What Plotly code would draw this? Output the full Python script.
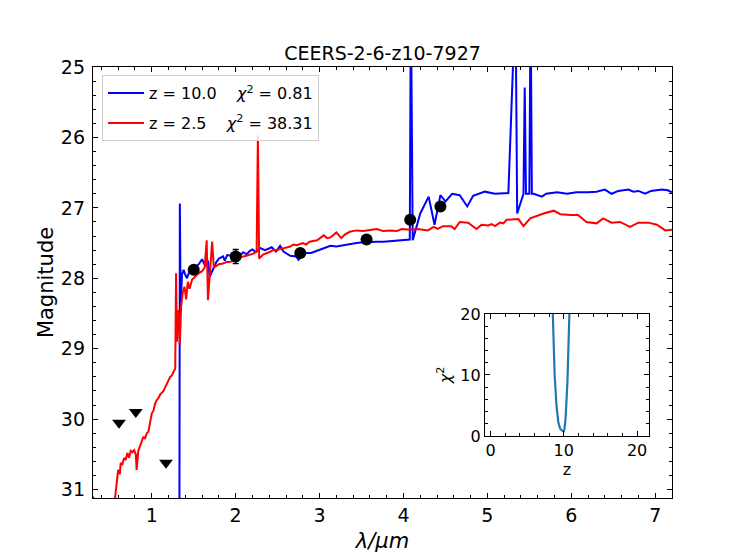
import plotly.graph_objects as go

# ---------------- data ----------------
# z = 10.0 template (blue)
blue_wl = [0.30, 0.80, 1.20, 1.32, 1.335, 1.345, 1.36, 1.38, 1.40, 1.42, 1.45, 1.48, 1.52, 1.56,
           1.60, 1.64, 1.67, 1.69, 1.72, 1.77, 1.80, 1.85, 1.87, 1.90, 1.95, 2.01, 2.05, 2.09,
           2.13, 2.17, 2.20, 2.24, 2.29, 2.35, 2.43, 2.48, 2.53, 2.57, 2.65, 2.72, 2.75, 2.79,
           2.84, 2.90, 2.97, 3.05, 3.13, 3.20, 3.28, 3.36, 3.44, 3.52, 3.60, 3.68, 3.76, 3.84,
           3.92, 4.00, 4.075, 4.088, 4.11, 4.20, 4.30, 4.37, 4.44, 4.50, 4.58, 4.67, 4.76, 4.83,
           4.97, 5.09, 5.25, 5.335, 5.355, 5.43, 5.445, 5.46, 5.50, 5.515, 5.53, 5.55, 5.65,
           5.70, 5.83, 5.95, 6.06, 6.20, 6.30, 6.40, 6.48, 6.56, 6.68, 6.74, 6.80, 6.88, 6.95,
           7.08, 7.15, 7.20]
blue_mag = [40.0, 40.0, 40.0, 40.0, 26.94, 28.40, 27.95, 27.88, 27.95, 28.00, 27.90, 27.88, 27.84, 27.80,
            27.73, 27.83, 27.75, 27.98, 27.90, 27.77, 27.72, 27.69, 27.75, 27.67, 27.68, 27.65, 27.68, 27.63,
            27.66, 27.61, 27.59, 27.63, 27.57, 27.60, 27.56, 27.62, 27.54, 27.62, 27.68, 27.69, 27.74, 27.68,
            27.64, 27.64, 27.61, 27.57, 27.54, 27.55, 27.53, 27.51, 27.50, 27.49, 27.48, 27.48, 27.48, 27.47,
            27.47, 27.46, 27.45, 24.00, 27.46, 27.08, 26.84, 27.24, 26.82, 26.91, 26.80, 26.82, 26.98, 26.83,
            26.77, 26.80, 26.79, 24.00, 27.08, 26.80, 25.29, 26.80, 26.80, 24.00, 26.80, 26.80, 26.84,
            26.80, 26.78, 26.80, 26.78, 26.78, 26.77, 26.74, 26.80, 26.76, 26.74, 26.77, 26.76, 26.80, 26.76,
            26.74, 26.75, 26.78]

# z = 2.5 template (red)
red_wl = [0.30, 0.33, 0.40, 0.50, 0.56, 0.58, 0.60, 0.62, 0.63, 0.65, 0.67, 0.69, 0.71, 0.73, 0.75,
          0.77, 0.79, 0.81, 0.82, 0.84, 0.86, 0.88, 0.90, 0.92, 0.94, 0.96, 0.98, 1.00, 1.02, 1.04,
          1.06, 1.08, 1.10, 1.12, 1.14, 1.16, 1.18, 1.20, 1.22, 1.24, 1.26, 1.28, 1.29, 1.30, 1.32,
          1.335, 1.35, 1.37, 1.39, 1.41, 1.43, 1.45, 1.48, 1.51, 1.54, 1.57, 1.60, 1.63, 1.655, 1.67,
          1.69, 1.72, 1.74, 1.77, 1.80, 1.85, 1.89, 1.93, 1.97, 2.01, 2.05, 2.09, 2.13, 2.17, 2.21,
          2.25, 2.265, 2.28, 2.33, 2.40, 2.45, 2.49, 2.57, 2.65, 2.69, 2.73, 2.80, 2.84, 2.88, 2.97,
          3.05, 3.09, 3.13, 3.20, 3.26, 3.30, 3.36, 3.44, 3.52, 3.60, 3.68, 3.76, 3.84, 3.92, 3.98,
          4.08, 4.17, 4.29, 4.36, 4.41, 4.47, 4.57, 4.61, 4.67, 4.77, 4.87, 4.93, 5.01, 5.05, 5.09,
          5.15, 5.19, 5.23, 5.37, 5.43, 5.51, 5.67, 5.79, 5.87, 5.99, 6.08, 6.18, 6.30, 6.38, 6.48,
          6.58, 6.70, 6.80, 6.92, 7.02, 7.12, 7.20]
red_mag = [31.10, 31.20, 31.50, 31.50, 31.15, 30.90, 30.72, 30.78, 30.62, 30.65, 30.55, 30.58, 30.48, 30.55, 30.45,
           30.47, 30.44, 30.50, 30.72, 30.45, 30.38, 30.30, 30.25, 30.28, 30.20, 30.18, 30.05, 29.92, 29.88, 29.78,
           29.73, 29.70, 29.65, 29.62, 29.60, 29.55, 29.50, 29.45, 29.40, 29.38, 29.33, 29.28, 27.93, 28.90, 28.45,
           28.95, 28.40, 28.20, 28.12, 28.30, 28.05, 28.15, 28.02, 27.98, 27.95, 27.92, 27.90, 27.85, 27.46, 28.31,
           27.95, 27.48, 27.85, 27.82, 27.80, 27.79, 27.77, 27.77, 27.75, 27.72, 27.70, 27.69, 27.68, 27.67, 27.65,
           27.62, 25.97, 27.72, 27.66, 27.63, 27.60, 27.60, 27.57, 27.55, 27.52, 27.53, 27.50, 27.52, 27.48, 27.46,
           27.39, 27.43, 27.42, 27.35, 27.43, 27.38, 27.34, 27.32, 27.33, 27.32, 27.30, 27.33, 27.32, 27.33, 27.30,
           27.31, 27.30, 27.32, 27.27, 27.30, 27.26, 27.26, 27.30, 27.20, 27.21, 27.30, 27.24, 27.25, 27.23, 27.26,
           27.21, 27.22, 27.17, 27.16, 27.26, 27.15, 27.08, 27.04, 27.09, 27.10, 27.10, 27.20, 27.22, 27.15, 27.21,
           27.20, 27.27, 27.21, 27.21, 27.24, 27.32, 27.31]

# photometry
phot_wl = [1.50, 2.00, 2.77, 3.56, 4.08, 4.44]
phot_mag = [27.88, 27.69, 27.64, 27.45, 27.17, 26.98]
phot_err = [0.05, 0.10, 0.04, 0.03, 0.05, 0.05]

# upper limits
lim_wl = [0.61, 0.81, 1.17]
lim_mag = [30.05, 29.90, 30.62]

# chi2(z) curve for inset
z_grid = [7.5, 8.0, 8.5, 8.75, 9.0, 9.25, 9.5, 9.75, 10.0, 10.1, 10.25, 10.5, 10.75, 11.0, 11.5, 12.0]
chi2_vals = [80.0, 45.0, 20.0, 10.0, 5.0, 2.3, 1.2, 0.9, 0.81, 1.2, 3.0, 9.0, 19.5, 30.0, 50.0, 80.0]

title_text = "CEERS-2-6-z10-7927"
label_blue = "z = 10.0\u00a0\u00a0\u00a0\u00a0<i>χ</i><sup>2</sup> = 0.81"
label_red = "z = 2.5\u00a0\u00a0\u00a0\u00a0<i>χ</i><sup>2</sup> = 38.31"

FONT = "DejaVu Sans"

fig = go.Figure()
fig.add_trace(go.Scatter(x=blue_wl, y=blue_mag, mode="lines", line=dict(color="blue", width=2),
                         name=label_blue, legendgroup="a"))
fig.add_trace(go.Scatter(x=red_wl, y=red_mag, mode="lines", line=dict(color="red", width=2),
                         name=label_red, legendgroup="b"))
fig.add_trace(go.Scatter(x=phot_wl, y=phot_mag, mode="markers",
                         marker=dict(color="black", size=12, symbol="circle"),
                         error_y=dict(type="data", array=phot_err, color="black", thickness=1.5, width=3),
                         showlegend=False))
fig.add_trace(go.Scatter(x=lim_wl, y=lim_mag, mode="markers",
                         marker=dict(color="black", size=12, symbol="triangle-down"),
                         showlegend=False))
fig.add_trace(go.Scatter(x=z_grid, y=chi2_vals, mode="lines", line=dict(color="#1f77b4", width=2.2),
                         xaxis="x2", yaxis="y2", showlegend=False))

axis_common = dict(showline=True, linecolor="black", linewidth=1.3, mirror="allticks",
                   ticks="inside", tickcolor="black", tickwidth=1.1, showgrid=False, zeroline=False)

# the page body has an 8px margin, so the figure is 8px smaller and margins shifted
fig.update_layout(
    width=739, height=552, autosize=False,
    margin=dict(l=85, r=75, t=59, b=62),
    paper_bgcolor="white", plot_bgcolor="white",
    font=dict(family=FONT, color="black", size=19),
    title=dict(text=title_text, x=0.5, xref="paper", xanchor="center",
               y=1.0, yref="paper", yanchor="bottom", pad=dict(b=7),
               font=dict(family=FONT, size=19, color="black")),
    xaxis=dict(**axis_common, range=[0.3, 7.2], tickvals=[1, 2, 3, 4, 5, 6, 7], ticklen=5,
               minor=dict(ticks="inside", ticklen=3, dtick=0.2, tick0=0, tickcolor="black", showgrid=False),
               tickfont=dict(size=19),
               title=dict(text="<i>λ/μm</i>", font=dict(size=21), standoff=8)),
    yaxis=dict(**axis_common, range=[31.12, 25], tickvals=[25, 26, 27, 28, 29, 30, 31], ticklen=5,
               minor=dict(ticks="inside", ticklen=3, dtick=0.2, tick0=0, tickcolor="black", showgrid=False),
               tickfont=dict(size=19), ticklabelstandoff=3,
               title=dict(text="Magnitude", font=dict(size=21), standoff=1)),
    xaxis2=dict(**axis_common, domain=[0.677, 0.960], anchor="y2", range=[-0.75, 21.6],
                tickvals=[0, 10, 20], ticklen=5,
                minor=dict(ticks="inside", ticklen=3, dtick=2, tick0=0, tickcolor="black", showgrid=False),
                tickfont=dict(size=16),
                title=dict(text="z", font=dict(size=16), standoff=2)),
    yaxis2=dict(**axis_common, domain=[0.1439, 0.4269], anchor="x2", range=[0, 20],
                tickvals=[0, 10, 20], ticklen=5,
                minor=dict(ticks="inside", ticklen=3, dtick=2, tick0=0, tickcolor="black", showgrid=False),
                tickfont=dict(size=16),
                title=dict(text="<i>χ</i><sup>2</sup>", font=dict(size=16), standoff=4)),
    legend=dict(x=0.0155, y=0.981, xanchor="left", yanchor="top",
                bgcolor="rgba(255,255,255,0.85)", bordercolor="#cccccc", borderwidth=1,
                font=dict(family=FONT, size=16), tracegroupgap=6, traceorder="grouped",
                itemwidth=36),
    showlegend=True,
)

fig.write_html("out.html")
